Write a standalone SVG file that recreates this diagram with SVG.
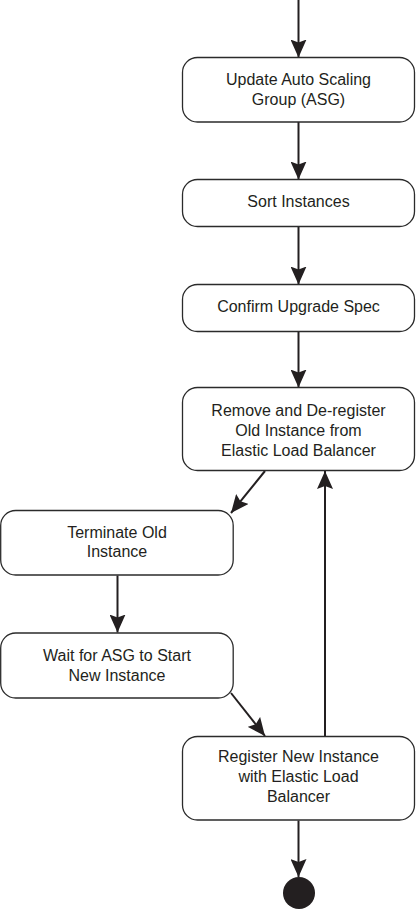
<svg xmlns="http://www.w3.org/2000/svg" width="416" height="910" viewBox="0 0 416 910">
<style>
.node rect{fill:#fff;stroke:#2b2b2b;stroke-width:1.3}
.node text{font-family:"Liberation Sans",Arial,sans-serif;font-size:16px;fill:#231f20;text-anchor:middle}
.edge{stroke:#231f20;stroke-width:2;fill:none}
</style>
<defs>
<marker id="ah" markerUnits="userSpaceOnUse" markerWidth="18" markerHeight="16" refX="18" refY="8" orient="auto" viewBox="0 0 18 16">
<path d="M0,0 L18,8 L0,16 L3,8 z" fill="#231f20"/>
</marker>
</defs>
<rect width="416" height="910" fill="#fff"/>
<g id="connectors">
<line class="edge" x1="298.5" y1="0" x2="298.5" y2="57.5" marker-end="url(#ah)"/>
<line class="edge" x1="298.5" y1="122" x2="298.5" y2="179.5" marker-end="url(#ah)"/>
<line class="edge" x1="298.5" y1="227" x2="298.5" y2="284.5" marker-end="url(#ah)"/>
<line class="edge" x1="298.5" y1="332" x2="298.5" y2="387.5" marker-end="url(#ah)"/>
<line class="edge" x1="265" y1="471" x2="231" y2="513" marker-end="url(#ah)"/>
<line class="edge" x1="117.5" y1="575.5" x2="117.5" y2="632.5" marker-end="url(#ah)"/>
<line class="edge" x1="231" y1="693" x2="265" y2="736" marker-end="url(#ah)"/>
<line class="edge" x1="325" y1="736" x2="325" y2="471" marker-end="url(#ah)"/>
<line class="edge" x1="298.5" y1="820.5" x2="298.5" y2="877" marker-end="url(#ah)"/>
</g>
<g id="n1" class="node">
<rect x="182.5" y="57.5" width="232" height="64.5" rx="15"/>
<text x="298.5" y="85">Update Auto Scaling</text>
<text x="298.5" y="105">Group (ASG)</text>
</g>
<g id="n2" class="node">
<rect x="182.5" y="179.5" width="232" height="47" rx="15"/>
<text x="298.5" y="207">Sort Instances</text>
</g>
<g id="n3" class="node">
<rect x="182.5" y="284.5" width="232" height="47" rx="15"/>
<text x="298.5" y="312">Confirm Upgrade Spec</text>
</g>
<g id="n4" class="node">
<rect x="182.5" y="387.5" width="232" height="83" rx="15"/>
<text x="298.5" y="416">Remove and De-register</text>
<text x="298.5" y="436">Old Instance from</text>
<text x="298.5" y="455.5">Elastic Load Balancer</text>
</g>
<g id="n5" class="node">
<rect x="0.7" y="510.5" width="232.5" height="64.5" rx="15"/>
<text x="117" y="537.5">Terminate Old</text>
<text x="117" y="557">Instance</text>
</g>
<g id="n6" class="node">
<rect x="0.7" y="633" width="232.5" height="65" rx="15"/>
<text x="117" y="660.5">Wait for ASG to Start</text>
<text x="117" y="680.5">New Instance</text>
</g>
<g id="n7" class="node">
<rect x="182.5" y="736.5" width="232" height="83.5" rx="15"/>
<text x="298.5" y="762">Register New Instance</text>
<text x="298.5" y="782">with Elastic Load</text>
<text x="298.5" y="802">Balancer</text>
</g>
<g id="end">
<circle cx="299" cy="893" r="16" fill="#231f20"/>
</g>
</svg>
